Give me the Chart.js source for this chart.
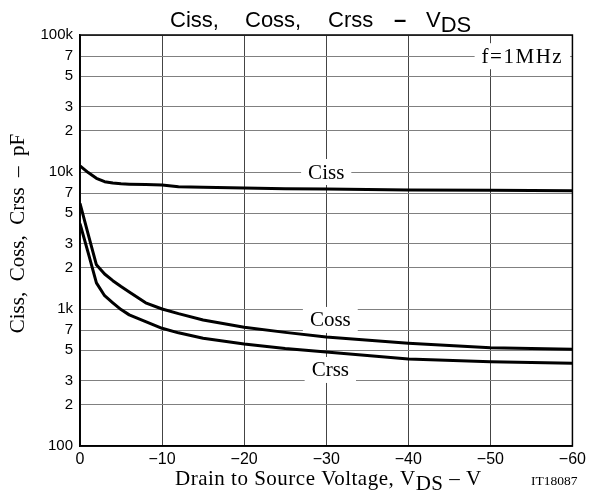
<!DOCTYPE html>
<html>
<head>
<meta charset="utf-8">
<script src="https://cdn.jsdelivr.net/npm/chart.js@4.4.1/dist/chart.umd.min.js"></script>
<style>
  html, body { margin: 0; padding: 0; background: #fff; }
  #wrap { width: 590px; height: 499px; }
</style>
</head>
<body>
<div id="wrap"><canvas id="cv" width="590" height="499"></canvas></div>
<script>
// ——— DATA ———
const vds  = [0, -1, -2, -3, -4, -5, -6, -8, -10, -12, -15, -20, -25, -30, -40, -50, -60];
const ciss = [11100, 9900, 9000, 8500, 8300, 8200, 8150, 8100, 8050, 7800, 7750, 7650, 7550, 7500, 7400, 7350, 7300];
const coss = [5900, 3500, 2100, 1800, 1610, 1460, 1330, 1110, 1000, 925, 832, 735, 675, 625, 562, 521, 508];
const crss = [4200, 2570, 1550, 1250, 1110, 990, 906, 810, 723, 670, 611, 556, 515, 485, 431, 412, 402];

const xTicks = [0, -10, -20, -30, -40, -50, -60];
const yTickValues = [100, 200, 300, 500, 700, 1000, 2000, 3000, 5000, 7000, 10000, 20000, 30000, 50000, 70000, 100000];
const yTickLabels = ['100', '2', '3', '5', '7', '1k', '2', '3', '5', '7', '10k', '2', '3', '5', '7', '100k'];

const SANS = '"Liberation Sans", Arial, sans-serif';
const SERIF = '"Liberation Serif", "Times New Roman", serif';

const pts = arr => vds.map((v, i) => ({ x: v, y: arr[i] }));

// ——— TEXT HELPERS ———
function drawParts(ctx, parts, x, y) {
    let cx = x;
    parts.forEach(p => {
        ctx.font = p.font;
        if (p.at !== undefined) cx = p.at;
        ctx.fillText(p.t, cx, y + (p.dy || 0));
        cx += ctx.measureText(p.t).width;
    });
}

function boxLabel(ctx, text, px, py, font, spacing) {
    ctx.font = font;
    ctx.letterSpacing = spacing || '0px';
    const w = ctx.measureText(text).width;
    ctx.fillStyle = '#fff';
    ctx.fillRect(px - w / 2 - 7, py - 13, w + 14, 26);
    ctx.fillStyle = '#000';
    ctx.textAlign = 'center';
    ctx.textBaseline = 'middle';
    ctx.fillText(text, px, py + 1);
    ctx.letterSpacing = '0px';
}

const overlay = {
    id: 'overlay',
    beforeDatasetsDraw(chart) {
        const { ctx, scales: { x, y } } = chart;
        ctx.save();
        const f = '21px ' + SERIF;
        boxLabel(ctx, 'f=1MHz', x.getPixelForValue(-53.9), y.getPixelForValue(70000), f, '1.5px');
        boxLabel(ctx, 'Ciss', x.getPixelForValue(-30), y.getPixelForValue(10000), f);
        boxLabel(ctx, 'Coss', x.getPixelForValue(-30.5), y.getPixelForValue(832), f);
        boxLabel(ctx, 'Crss', x.getPixelForValue(-30.5), y.getPixelForValue(359), f);
        ctx.restore();
    },
    afterDraw(chart) {
        const { ctx, chartArea: a } = chart;
        ctx.save();
        // frame
        ctx.strokeStyle = '#000';
        ctx.lineWidth = 1.5;
        ctx.strokeRect(a.left, a.top, a.right - a.left, a.bottom - a.top);

        ctx.fillStyle = '#000';
        ctx.textAlign = 'left';
        ctx.textBaseline = 'alphabetic';
        // title
        const tf = '22px ' + SANS;
        drawParts(ctx, [
            { t: 'Ciss,', font: tf, at: 170 },
            { t: 'Coss,', font: tf, at: 245 },
            { t: 'Crss', font: tf, at: 328 },
            { t: '\u2013', font: 'bold ' + tf, at: 394 },
            { t: 'V', font: tf, at: 426 },
            { t: 'DS', font: tf, dy: 5 }
        ], 170, 27);

        // x axis title
        const xf = '21px ' + SERIF;
        ctx.letterSpacing = '0.5px';
        drawParts(ctx, [
            { t: 'Drain to Source Voltage, V', font: xf },
            { t: 'DS', font: xf, dy: 5 },
            { t: ' \u2013 V', font: xf }
        ], 175, 485);
        ctx.letterSpacing = '0px';
        ctx.font = '13.5px ' + SERIF;
        ctx.fillText('IT18087', 531, 485);

        // y axis title
        ctx.translate(24, 233.5);
        ctx.rotate(-Math.PI / 2);
        ctx.textAlign = 'center';
        ctx.font = '21px ' + SERIF;
        ctx.fillText('Ciss,  Coss,  Crss  \u2013  pF', 0, 0);
        ctx.restore();
    }
};

const lineStyle = {
    borderColor: '#000',
    borderWidth: 3,
    pointRadius: 0,
    fill: false,
    tension: 0,
    borderJoinStyle: 'round'
};

new Chart(document.getElementById('cv'), {
    type: 'line',
    data: {
        datasets: [
            { label: 'Ciss', data: pts(ciss), ...lineStyle },
            { label: 'Coss', data: pts(coss), ...lineStyle },
            { label: 'Crss', data: pts(crss), ...lineStyle }
        ]
    },
    options: {
        responsive: false,
        animation: false,
        layout: { padding: { top: 35, right: 16, left: 0, bottom: 0 } },
        plugins: { legend: { display: false }, tooltip: { enabled: false }, title: { display: false } },
        scales: {
            x: {
                type: 'linear',
                min: -60,
                max: 0,
                reverse: true,
                afterFit: s => { s.height = 53; },
                afterBuildTicks: s => { s.ticks = xTicks.map(v => ({ value: v })); },
                grid: { color: '#444', lineWidth: 1, drawTicks: false },
                border: { color: '#000', width: 1.5 },
                ticks: {
                    color: '#000',
                    padding: 4,
                    maxRotation: 0,
                    font: { family: SANS, size: 16 },
                    callback: v => v === 0 ? '0' : '\u2212' + Math.abs(v)
                }
            },
            y: {
                type: 'logarithmic',
                min: 100,
                max: 100000,
                afterFit: s => { s.width = 80; },
                afterBuildTicks: s => { s.ticks = yTickValues.map(v => ({ value: v })); },
                grid: { color: '#808080', lineWidth: 1, drawTicks: false },
                border: { color: '#000', width: 1.5 },
                ticks: {
                    color: '#000',
                    padding: 7,
                    autoSkip: false,
                    font: { family: SANS, size: 15 },
                    callback: v => yTickLabels[yTickValues.indexOf(v)] ?? ''
                }
            }
        }
    },
    plugins: [overlay]
});
</script>
</body>
</html>
